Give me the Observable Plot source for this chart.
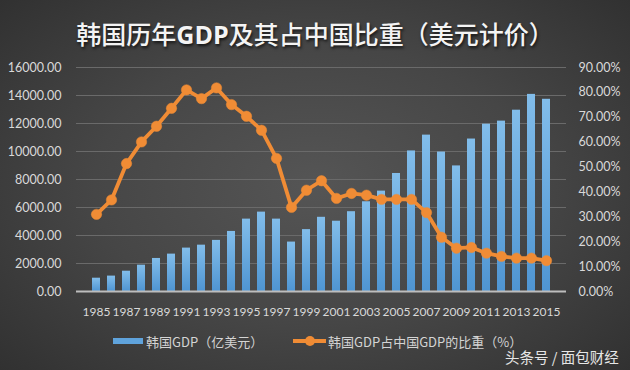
<!DOCTYPE html>
<html>
<head>
<meta charset="utf-8">
<script src="https://cdn.jsdelivr.net/npm/d3@7"></script>
<script src="https://cdn.jsdelivr.net/npm/@observablehq/plot@0.6"></script>
<style>
  html, body { margin: 0; padding: 0; }
  body { width: 630px; height: 370px; overflow: hidden;
    background: radial-gradient(ellipse 70% 75% at 50% 50%, #555555 0%, #464646 50%, #303030 100%);
    font-family: Lato, "Noto Sans CJK SC", sans-serif; position: relative; }
  #title { position: absolute; left: 0; top: 18px; width: 630px; text-align: center;
    font-family: "Noto Sans CJK SC", sans-serif; font-size: 25px; font-weight: 500; color: #f4f4f4;
    line-height: 30px; text-shadow: 1px 2px 3px rgba(0,0,0,0.7); }
  #title b { font-family: "Open Sans", sans-serif; font-weight: 700; }
  #chart { position: absolute; left: 0; top: 55px; }
  .leg { position: absolute; font-family: "Noto Sans CJK SC", sans-serif; font-size: 13px; color: #d4d4d4; line-height: 16px; }
  #footer { position: absolute; left: 505px; top: 348px; font-family: "Noto Sans CJK SC", sans-serif;
    font-size: 14.5px; color: #e6e6e6; line-height: 18px; }
</style>
</head>
<body>
<div id="title">韩国历年<b>GDP</b>及其占中国比重（美元计价）</div>
<div id="chart"></div>
<div style="position:absolute;left:113px;top:338px;width:30px;height:6px;background:#5fa3dc;"></div>
<div class="leg" style="left:146px;top:334px;">韩国GDP（亿美元）</div>
<div style="position:absolute;left:293px;top:339px;width:33px;height:4px;background:#f08c35;"></div>
<div style="position:absolute;left:305px;top:336px;width:10px;height:10px;border-radius:5px;background:#f08c35;"></div>
<div class="leg" style="left:328px;top:334px;">韩国GDP占中国GDP的比重（%）</div>
<div id="footer">头条号 / 面包财经</div>
<script>
const years = d3.range(1985, 2016);
const gdp = [950, 1100, 1450, 1880, 2360, 2670, 3100, 3310, 3650, 4290, 5170, 5670, 5170, 3530, 4420,
             5300, 5020, 5700, 6410, 7170, 8430, 10040, 11170, 9960, 8970, 10890, 11950, 12170, 12950, 14080, 13730];
const share = [31.0, 36.8, 51.4, 60.1, 66.4, 73.6, 81.0, 77.5, 81.8, 75.1, 70.4, 64.8, 53.5, 33.8, 40.7,
               44.5, 37.4, 39.4, 38.7, 37.0, 37.0, 37.0, 31.7, 21.8, 17.4, 17.7, 15.4, 14.1, 13.4, 13.4, 12.4];
const leftTicks = d3.range(0, 16001, 2000);
const rightTicks = d3.range(0, 91, 10);
const yMax = 16000, pMax = 90;

const data = years.map((y, i) => ({year: y, gdp: gdp[i], share: share[i]}));
const toY = p => p * yMax / pMax;

const chart = Plot.plot({
  width: 630,
  height: 270,
  marginTop: 12,
  marginBottom: 34,
  marginLeft: 76,
  marginRight: 64,
  style: {background: "transparent", color: "#d9d9d9", fontFamily: "Lato, sans-serif", fontSize: "12px", overflow: "visible"},
  x: {type: "band", domain: years, padding: 0.45},
  y: {domain: [0, yMax]},
  marks: [
    Plot.gridY(leftTicks, {stroke: "#6a6a6a", strokeOpacity: 1, strokeWidth: 1}),
    Plot.barY(data, {x: "year", y: "gdp", fill: "url(#barGrad)"}),
    Plot.ruleY([0], {stroke: "#bdbdbd", strokeWidth: 2}),
    Plot.axisY(leftTicks, {anchor: "left", tickSize: 0, tickPadding: 15, tickFormat: d => d.toFixed(2), label: null, fill: "#d9d9d9", fontSize: 12.5}),
    Plot.axisY(rightTicks.map(toY), {anchor: "right", tickSize: 0, tickPadding: 12, tickFormat: d => (d * pMax / yMax).toFixed(2) + "%", label: null, fill: "#d9d9d9", fontSize: 12.5}),
    Plot.axisX(years.filter(y => (y - 1985) % 2 === 0), {tickSize: 0, tickPadding: 16, tickFormat: d => String(d), label: null, fill: "#d9d9d9", fontSize: 12}),
    Plot.line(data, {x: "year", y: d => toY(d.share), stroke: "#f08c35", strokeWidth: 3.8, curve: "linear"}),
    Plot.dot(data, {x: "year", y: d => toY(d.share), r: 5.2, fill: "#f08c35", stroke: "#f08c35", strokeWidth: 0.5})
  ]
});

const defs = d3.select(chart).insert("defs", ":first-child");
const g = defs.append("linearGradient").attr("id", "barGrad").attr("x1", 0).attr("y1", 0).attr("x2", 0).attr("y2", 1);
g.append("stop").attr("offset", "0%").attr("stop-color", "#82bdea");
g.append("stop").attr("offset", "100%").attr("stop-color", "#4f95d2");

document.getElementById("chart").appendChild(chart);
</script>
</body>
</html>
